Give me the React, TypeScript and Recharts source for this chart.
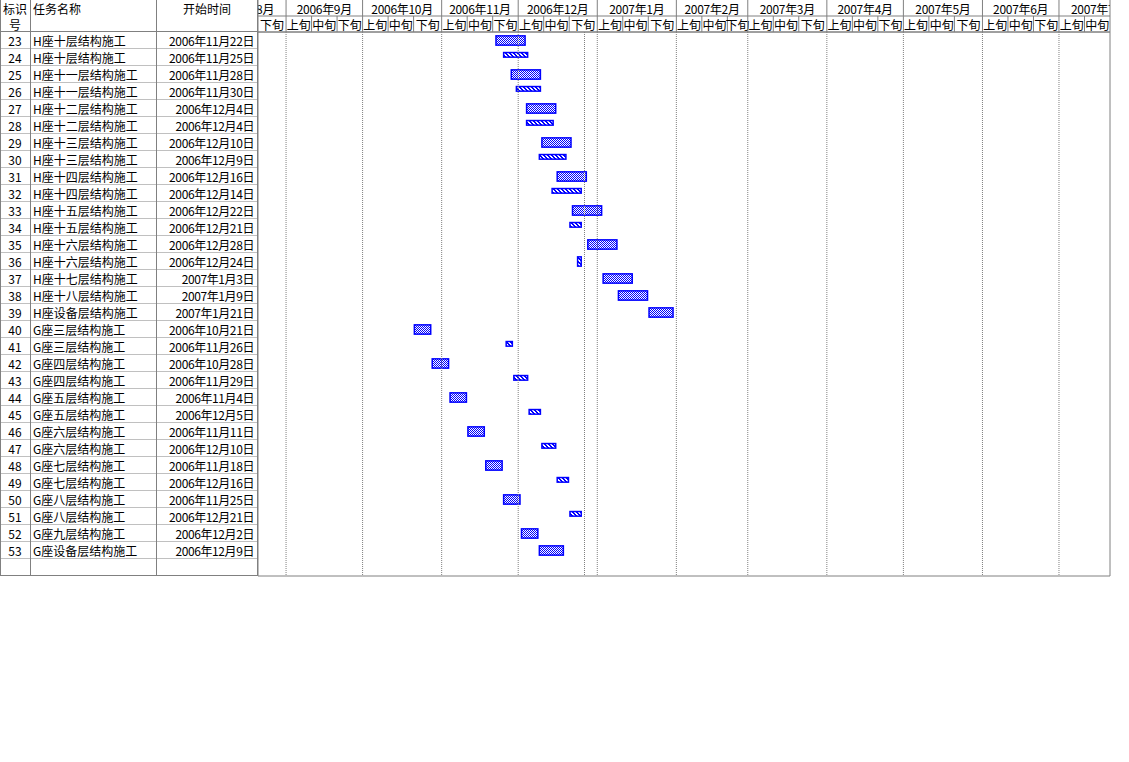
import React from 'react';
import { ComposedChart, Bar, XAxis, YAxis, ReferenceLine, ReferenceArea } from 'recharts';

// ---------- data ----------
const taskIds = [23, 24, 25, 26, 27, 28, 29, 30, 31, 32, 33, 34, 35, 36, 37, 38, 39, 40, 41, 42, 43, 44, 45, 46, 47, 48, 49, 50, 51, 52, 53];
const taskNames = [
  'H座十层结构施工', 'H座十层结构施工', 'H座十一层结构施工', 'H座十一层结构施工',
  'H座十二层结构施工', 'H座十二层结构施工', 'H座十三层结构施工', 'H座十三层结构施工',
  'H座十四层结构施工', 'H座十四层结构施工', 'H座十五层结构施工', 'H座十五层结构施工',
  'H座十六层结构施工', 'H座十六层结构施工', 'H座十七层结构施工', 'H座十八层结构施工',
  'H座设备层结构施工', 'G座三层结构施工', 'G座三层结构施工', 'G座四层结构施工',
  'G座四层结构施工', 'G座五层结构施工', 'G座五层结构施工', 'G座六层结构施工',
  'G座六层结构施工', 'G座七层结构施工', 'G座七层结构施工', 'G座八层结构施工',
  'G座八层结构施工', 'G座九层结构施工', 'G座设备层结构施工',
];
const startDates = [
  '2006年11月22日', '2006年11月25日', '2006年11月28日', '2006年11月30日',
  '2006年12月4日', '2006年12月4日', '2006年12月10日', '2006年12月9日',
  '2006年12月16日', '2006年12月14日', '2006年12月22日', '2006年12月21日',
  '2006年12月28日', '2006年12月24日', '2007年1月3日', '2007年1月9日',
  '2007年1月21日', '2006年10月21日', '2006年11月26日', '2006年10月28日',
  '2006年11月29日', '2006年11月4日', '2006年12月5日', '2006年11月11日',
  '2006年12月10日', '2006年11月18日', '2006年12月16日', '2006年11月25日',
  '2006年12月21日', '2006年12月2日', '2006年12月9日',
];
const durationsDays = [12, 10, 12, 10, 12, 11, 12, 11, 12, 12, 12, 5, 12, 2, 12, 12, 10, 7, 3, 7, 6, 7, 5, 7, 6, 7, 5, 7, 5, 7, 10];
// c = checkered task bar, h = thin hatched bar, t = tall hatched bar
const barKinds = ['c', 'h', 'c', 'h', 'c', 'h', 'c', 'h', 'c', 'h', 'c', 'h', 'c', 't', 'c', 'c', 'c', 'c', 'h', 'c', 'h', 'c', 'h', 'c', 'h', 'c', 'h', 'c', 'h', 'c', 'c'];

const monthLabels = ['2006年8月', '2006年9月', '2006年10月', '2006年11月', '2006年12月', '2007年1月', '2007年2月', '2007年3月', '2007年4月', '2007年5月', '2007年6月', '2007年7月'];
const xunLabels = ['上旬', '中旬', '下旬'];
const timelineStart = '2006年8月21日';
const timelineEnd = '2007年7月21日';
const statusDate = '2006年12月27日';

// ---------- helpers ----------
const parseYMD = (s: string) => {
  const m = s.match(/(\d+)年(\d+)月(?:(\d+)日)?/)!;
  return [Number(m[1]), Number(m[2]), m[3] ? Number(m[3]) : 1];
};
const [oy, om, od] = parseYMD(timelineStart);
const ORIGIN = Date.UTC(oy, om - 1, od);
const dayOf = (y: number, m: number, d: number) => (Date.UTC(y, m - 1, d) - ORIGIN) / 86400000;
const parseDay = (s: string) => {
  const [y, m, d] = parseYMD(s);
  return dayOf(y, m, d);
};
const END = parseDay(timelineEnd);
const STATUS = parseDay(statusDate);

type Row = { key: string; id?: number; name?: string; date?: string; range: [number, number] | null; kind: string | null };
const rows: Row[] = taskIds.map((id, i) => {
  const s = parseDay(startDates[i]);
  return { key: 'r' + id, id, name: taskNames[i], date: startDates[i], range: [s, s + durationsDays[i]], kind: barKinds[i] };
});
rows.push({ key: 'blank', range: null, kind: null });
const rowByKey = new Map(rows.map((r) => [r.key, r]));

// month spans
const months = monthLabels.map((label) => {
  const [y, m] = parseYMD(label);
  return { label, start: dayOf(y, m, 1), end: dayOf(y, m + 1, 1), y, m };
});
const monthInfo = new Map<number, { type: 'b' | 'c'; label?: string }>();
monthInfo.set(0, { type: 'b' });
monthInfo.set(END, { type: 'b' });
months.forEach((mo) => {
  if (mo.start > 0 && mo.start < END) monthInfo.set(mo.start, { type: 'b' });
  monthInfo.set((mo.start + mo.end) / 2, { type: 'c', label: mo.label });
});
const monthTicks = Array.from(monthInfo.keys()).sort((a, b) => a - b);

const xunInfo = new Map<number, { type: 'b' | 'c'; label?: string }>();
months.forEach((mo) => {
  const starts = [dayOf(mo.y, mo.m, 1), dayOf(mo.y, mo.m, 11), dayOf(mo.y, mo.m, 21)];
  const ends = [starts[1], starts[2], mo.end];
  starts.forEach((s, k) => {
    const e = ends[k];
    if (s < END && e > 0) {
      xunInfo.set(s, { type: 'b' });
      xunInfo.set((s + e) / 2, { type: 'c', label: xunLabels[k] });
    }
  });
});
xunInfo.set(END, { type: 'b' });
const xunTicks = Array.from(xunInfo.keys()).sort((a, b) => a - b);

const monthStartLines = months.map((m) => m.start).filter((d) => d > 0 && d < END);

// ---------- layout / style ----------
const W = 1129;
const H = 762;
const TABLE_W = 258;
const PLOT_RIGHT = 1110;
const ROW_H = 17;
const HEADER_ROW = 16;
const PLOT_BOTTOM = 576;
const COL_ID = 30;
const COL_NAME = 156;
const FONT = "'Noto Sans CJK SC', 'Noto Sans', sans-serif";
const GRID = '#808080';
const ROW_LINE = '#c0c0c0';
const BLUE = '#0000ff';
const XUN_AXIS = 'a_xun';
const MONTH_AXIS = 'b_month';

const txt = (x: number, y: number, s: string, anchor: 'start' | 'middle' | 'end', extra: any = {}) => (
  <text x={x} y={y} textAnchor={anchor} dominantBaseline="central" fontSize={12} fill="#000" fontFamily={FONT} {...extra}>
    {s}
  </text>
);

const XunTick = (props: any) => {
  const { x, y, payload } = props;
  const info = xunInfo.get(payload.value);
  if (!info) return null;
  if (info.type === 'b') return <line x1={x} x2={x} y1={y - HEADER_ROW} y2={y} stroke={GRID} />;
  return txt(x, y - HEADER_ROW / 2, info.label!, 'middle');
};

const MonthTick = (props: any) => {
  const { x, y, payload } = props;
  const info = monthInfo.get(payload.value);
  if (!info) return null;
  if (info.type === 'b') return <line x1={x} x2={x} y1={y - HEADER_ROW} y2={y} stroke={GRID} />;
  return <g clipPath="url(#hdrClip)">{txt(x, y - HEADER_ROW / 2, info.label!, 'middle', { letterSpacing: -0.3 })}</g>;
};

const TableTick = (props: any) => {
  const { y, payload, index } = props;
  const r = rowByKey.get(payload.value);
  if (!r) return null;
  const top = y - ROW_H / 2;
  const bot = y + ROW_H / 2;
  const isLast = r.key === 'blank';
  return (
    <g>
      {index === 0 && (
        <g>
          <line x1={0.5} x2={0.5} y1={top - 2 * HEADER_ROW} y2={top} stroke={GRID} />
          <line x1={COL_ID + 0.5} x2={COL_ID + 0.5} y1={top - 2 * HEADER_ROW} y2={top} stroke={GRID} />
          <line x1={COL_NAME + 0.5} x2={COL_NAME + 0.5} y1={top - 2 * HEADER_ROW} y2={top} stroke={GRID} />
          <line x1={TABLE_W - 0.5} x2={TABLE_W - 0.5} y1={top - 2 * HEADER_ROW} y2={top} stroke={GRID} />
          <line x1={0} x2={TABLE_W} y1={top - 0.5} y2={top - 0.5} stroke={GRID} />
          {txt(COL_ID / 2, top - 24, '标识', 'middle')}
          {txt(COL_ID / 2, top - 8, '号', 'middle')}
          {txt(COL_ID + 3, top - 24, '任务名称', 'start')}
          {txt((COL_NAME + TABLE_W) / 2, top - 24, '开始时间', 'middle')}
        </g>
      )}
      <line x1={0} x2={TABLE_W} y1={bot - 0.5} y2={bot - 0.5} stroke={isLast ? GRID : ROW_LINE} />
      <line x1={0.5} x2={0.5} y1={top} y2={bot} stroke={GRID} />
      <line x1={COL_ID + 0.5} x2={COL_ID + 0.5} y1={top} y2={bot} stroke={GRID} />
      <line x1={COL_NAME + 0.5} x2={COL_NAME + 0.5} y1={top} y2={bot} stroke={GRID} />
      <line x1={TABLE_W - 0.5} x2={TABLE_W - 0.5} y1={top} y2={bot} stroke={GRID} />
      {r.id != null && txt(COL_ID / 2, y, String(r.id), 'middle')}
      {r.name && txt(COL_ID + 3, y, r.name, 'start')}
      {r.date && txt(TABLE_W - 4, y, r.date, 'end', { letterSpacing: -0.4 })}
    </g>
  );
};

const GanttShape = (props: any) => {
  const { x, y, width, height, payload } = props;
  if (!payload || !payload.kind || width == null) return null;
  const top = y + height / 2 - ROW_H / 2;
  const tall = payload.kind !== 'h';
  const fill = payload.kind === 'c' ? 'url(#chk)' : 'url(#hatch)';
  const ry = tall ? top + 3.7 : top + 3.4;
  const rh = tall ? 9.3 : 4.6;
  return <rect x={x + 0.75} y={ry} width={Math.max(width - 1.5, 1)} height={rh} fill={fill} stroke={BLUE} strokeWidth={1.5} />;
};

export default function App() {
  return (
    <div style={{ position: 'absolute', left: 0, top: 0, width: W, height: H, background: '#fff' }}>
      <svg width={0} height={0} style={{ position: 'absolute' }}>
        <defs>
          <pattern id="chk" patternUnits="userSpaceOnUse" width={2} height={2}>
            <rect x={0} y={0} width={2} height={2} fill="#fff" />
            <rect x={0} y={0} width={1} height={1} fill={BLUE} />
            <rect x={1} y={1} width={1} height={1} fill={BLUE} />
          </pattern>
          <pattern id="hatch" patternUnits="userSpaceOnUse" width={4} height={4}>
            <rect x={0} y={0} width={4} height={4} fill="#fff" />
            <rect x={0} y={0} width={2} height={1} fill={BLUE} />
            <rect x={1} y={1} width={2} height={1} fill={BLUE} />
            <rect x={2} y={2} width={2} height={1} fill={BLUE} />
            <rect x={3} y={3} width={1} height={1} fill={BLUE} />
            <rect x={0} y={3} width={1} height={1} fill={BLUE} />
          </pattern>
          <clipPath id="hdrClip" clipPathUnits="userSpaceOnUse">
            <rect x={TABLE_W} y={0} width={PLOT_RIGHT - TABLE_W} height={2 * HEADER_ROW} />
          </clipPath>
        </defs>
      </svg>
      <ComposedChart
        layout="vertical"
        width={W}
        height={H}
        data={rows}
        margin={{ top: 0, right: W - PLOT_RIGHT, bottom: H - PLOT_BOTTOM, left: 0 }}
        barCategoryGap={0}
        barGap={0}
      >
        <XAxis
          xAxisId={XUN_AXIS}
          type="number"
          orientation="top"
          domain={[0, END]}
          height={HEADER_ROW}
          ticks={xunTicks}
          interval={0}
          tick={XunTick}
          tickSize={0}
          tickMargin={0}
          tickLine={false}
          axisLine={{ stroke: GRID }}
          allowDataOverflow
        />
        <XAxis
          xAxisId={MONTH_AXIS}
          type="number"
          orientation="top"
          domain={[0, END]}
          height={HEADER_ROW}
          ticks={monthTicks}
          interval={0}
          tick={MonthTick}
          tickSize={0}
          tickMargin={0}
          tickLine={false}
          axisLine={{ stroke: GRID }}
          allowDataOverflow
        />
        <YAxis
          type="category"
          dataKey="key"
          width={TABLE_W}
          interval={0}
          tick={TableTick}
          tickSize={0}
          tickMargin={0}
          tickLine={false}
          axisLine={false}
        />
        {monthStartLines.map((d) => (
          <ReferenceLine key={'m' + d} xAxisId={XUN_AXIS} x={d} stroke={GRID} strokeDasharray="1 1" />
        ))}
        <ReferenceLine xAxisId={XUN_AXIS} x={STATUS} stroke={GRID} strokeDasharray="1 1" />
        <ReferenceArea xAxisId={XUN_AXIS} x1={0} x2={END} fill="none" fillOpacity={0} stroke={GRID} strokeOpacity={1} />
        <Bar xAxisId={XUN_AXIS} dataKey="range" barSize={ROW_H} shape={GanttShape} isAnimationActive={false} />
      </ComposedChart>
    </div>
  );
}
